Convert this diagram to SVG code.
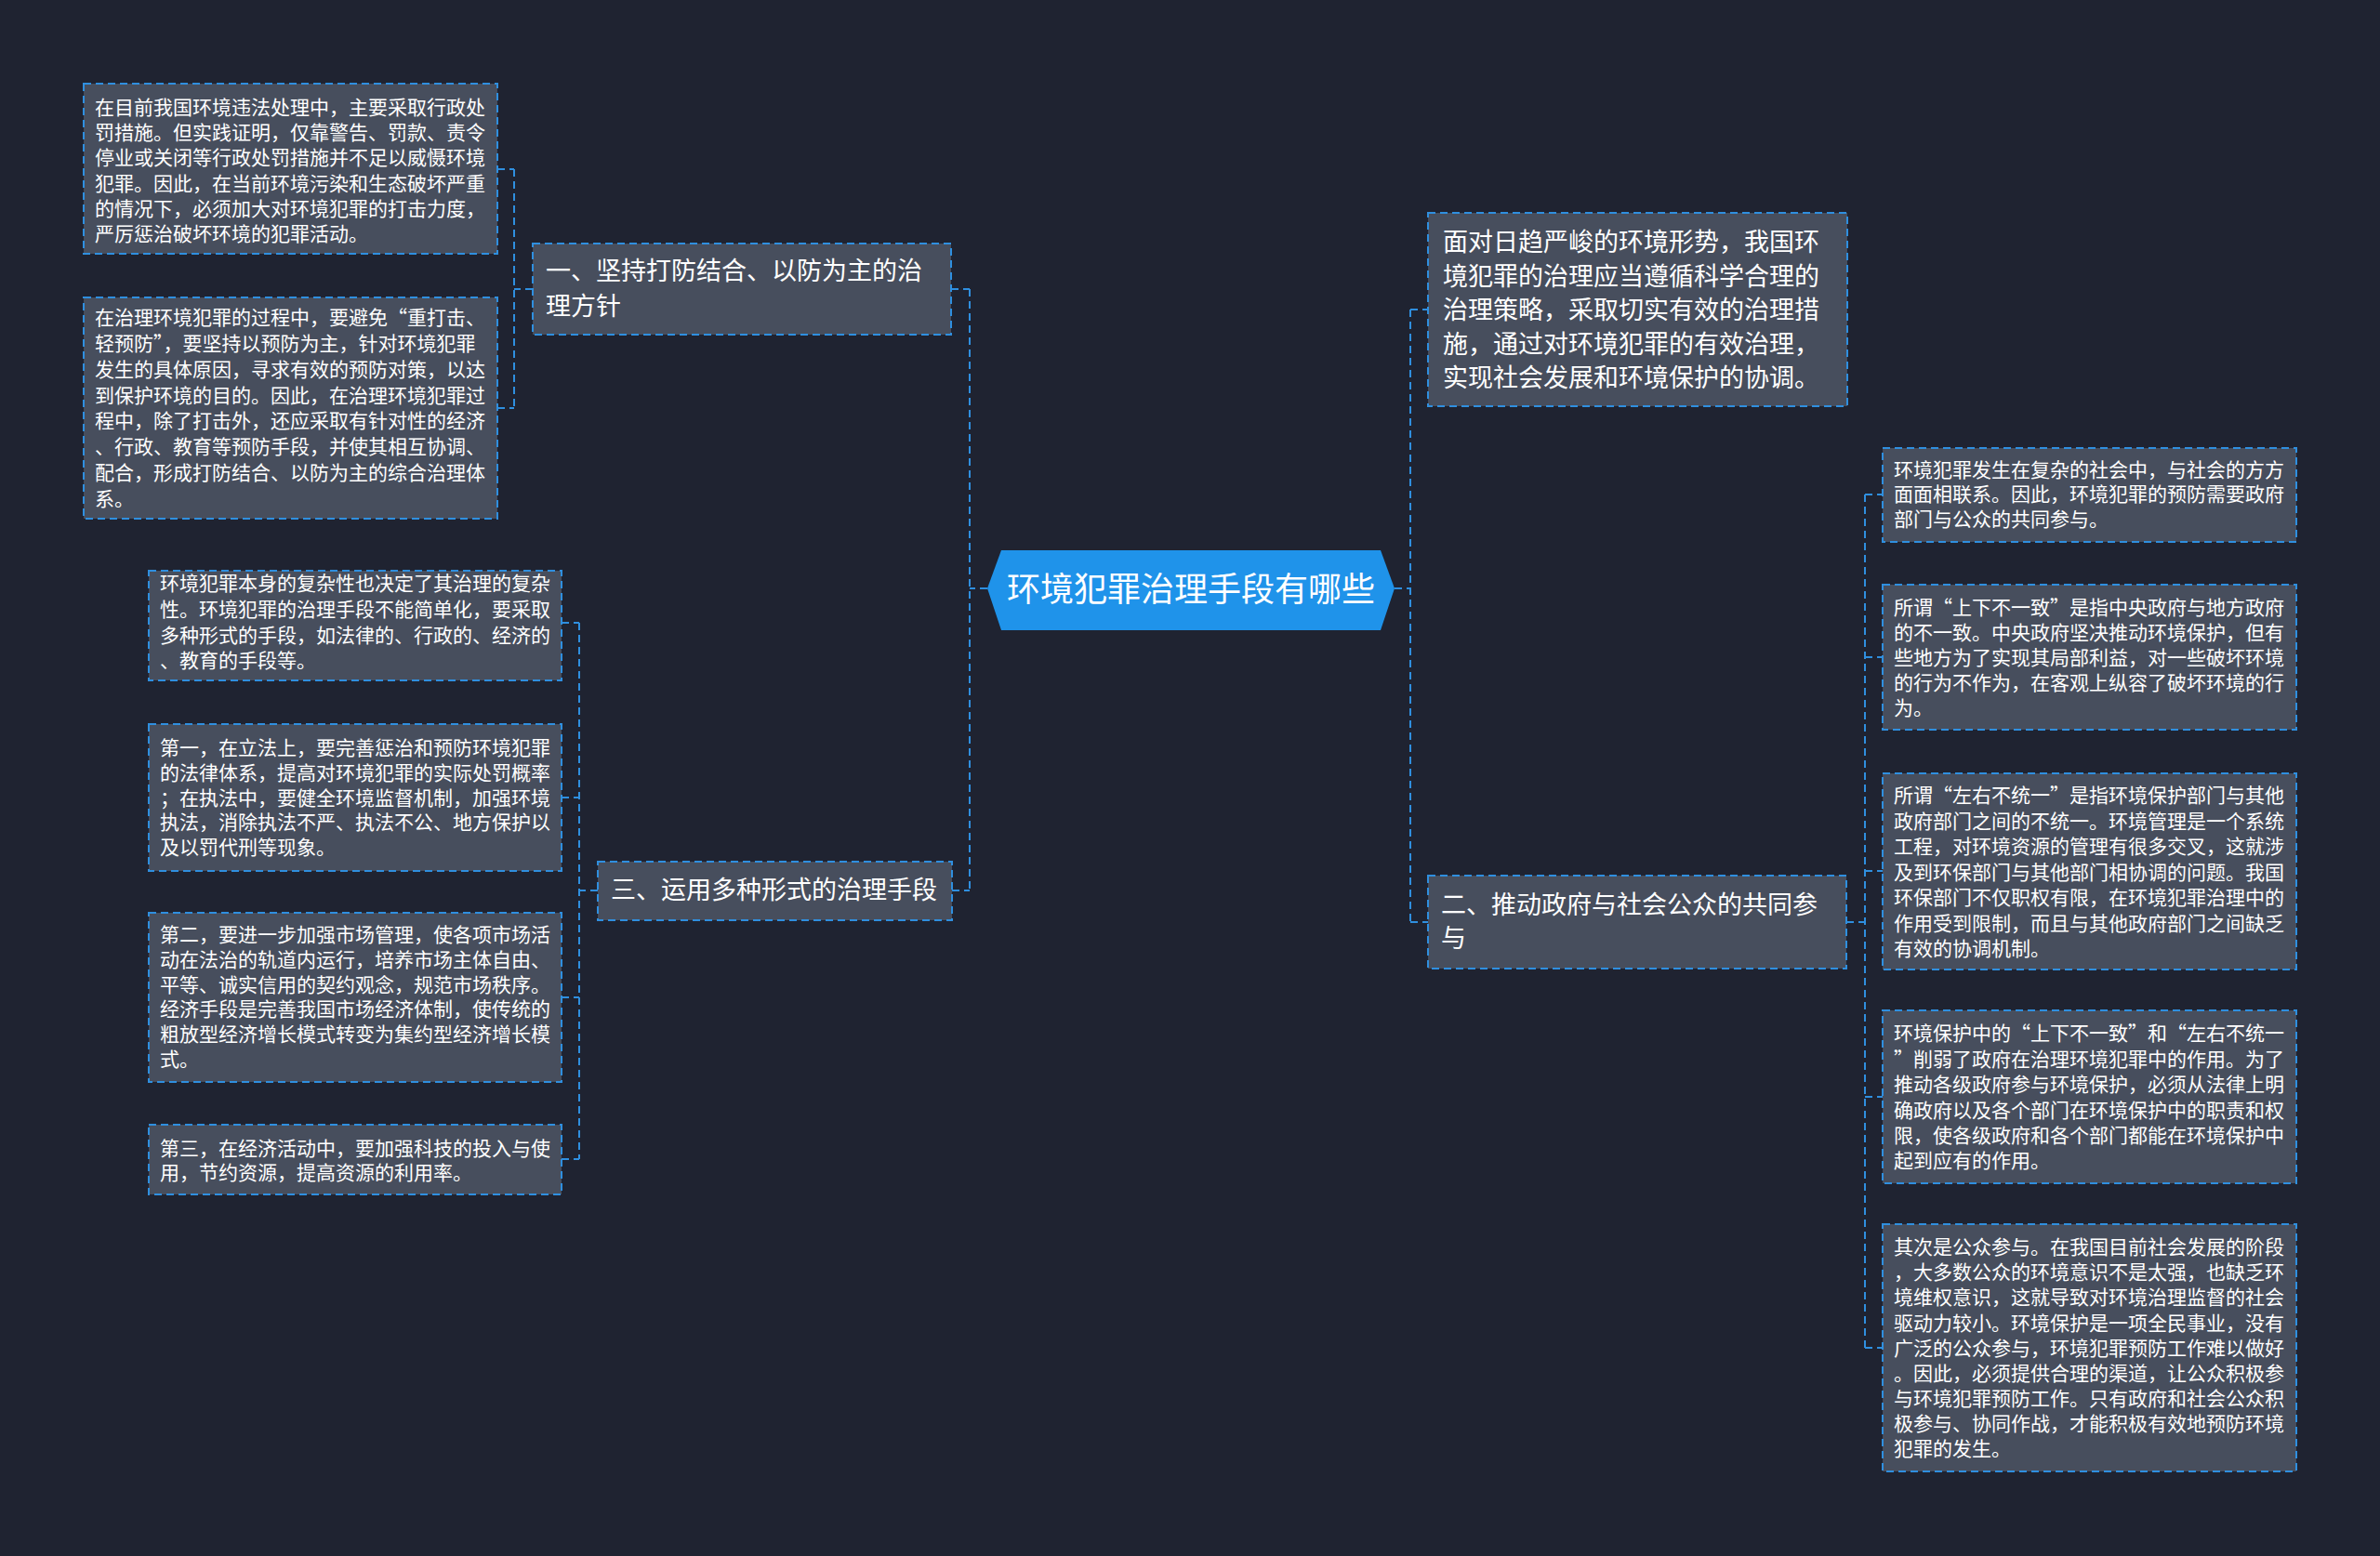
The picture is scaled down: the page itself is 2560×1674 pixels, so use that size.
<svg xmlns="http://www.w3.org/2000/svg" width="2560" height="1674" viewBox="0 0 2560 1674">
<style>
.box{fill:#474e5d;stroke:#2f8fdf;stroke-width:2;stroke-dasharray:8 5}
.conn{fill:none;stroke:#2f8fdf;stroke-width:2;stroke-dasharray:8 5}
.t{font-family:"Noto Sans CJK SC","Noto Sans",sans-serif;fill:#ffffff;dominant-baseline:central}
.s21{font-size:21px;transform:translateY(-3px)}
.s27{font-size:27px;transform:translateY(-4px)}
.s36{font-size:36px;transform:translateY(-2px)}
</style>
<rect x="0" y="0" width="2560" height="1674" fill="#1f2331"/>
<g id="connectors">
<path class="conn" d="M1062,633 H1043 M1043,311 V958 M1023,311 H1043 M1024,958 H1043"/>
<path class="conn" d="M573,311 H553 M553,182 V439 M535,182 H553 M535,439 H553"/>
<path class="conn" d="M643,958 H623 M623,670 V1247 M604,670 H623 M604,858 H623 M604,1073 H623 M604,1247 H623"/>
<path class="conn" d="M1500,633 H1517 M1517,333 V992 M1517,333 H1536 M1517,992 H1536"/>
<path class="conn" d="M1986,992 H2006 M2006,532 V1450 M2006,532 H2025 M2006,707 H2025 M2006,937 H2025 M2006,1180 H2025 M2006,1450 H2025"/>
</g>
<g id="center">
<polygon points="1062,633 1077,592 1485,592 1500,633 1485,678 1077,678" fill="#1f93ea"/>
<text class="t s36" x="1281" y="633" text-anchor="middle">环境犯罪治理手段有哪些</text>
</g>
<g id="branch1">
<rect class="box" x="573" y="262" width="450" height="98"/>
<text class="t s27"><tspan x="587" y="293">一、坚持打防结合、以防为主的治</tspan><tspan x="587" y="331">理方针</tspan></text>
</g>
<g id="b1c1">
<rect class="box" x="90" y="90" width="445" height="183"/>
<text class="t s21"><tspan x="102" y="117">在目前我国环境违法处理中，主要采取行政处</tspan><tspan x="102" y="144">罚措施。但实践证明，仅靠警告、罚款、责令</tspan><tspan x="102" y="171">停业或关闭等行政处罚措施并不足以威慑环境</tspan><tspan x="102" y="198.5">犯罪。因此，在当前环境污染和生态破坏严重</tspan><tspan x="102" y="225.5">的情况下，必须加大对环境犯罪的打击力度，</tspan><tspan x="102" y="252.5">严厉惩治破坏环境的犯罪活动。</tspan></text>
</g>
<g id="b1c2">
<rect class="box" x="90" y="320" width="445" height="238"/>
<text class="t s21"><tspan x="102" y="343">在治理环境犯罪的过程中，要避免“重打击、</tspan><tspan x="102" y="371">轻预防”，要坚持以预防为主，针对环境犯罪</tspan><tspan x="102" y="399">发生的具体原因，寻求有效的预防对策，以达</tspan><tspan x="102" y="427">到保护环境的目的。因此，在治理环境犯罪过</tspan><tspan x="102" y="454">程中，除了打击外，还应采取有针对性的经济</tspan><tspan x="102" y="482">、行政、教育等预防手段，并使其相互协调、</tspan><tspan x="102" y="510">配合，形成打防结合、以防为主的综合治理体</tspan><tspan x="102" y="538">系。</tspan></text>
</g>
<g id="branch3">
<rect class="box" x="643" y="927" width="381" height="63"/>
<text class="t s27" x="657" y="959">三、运用多种形式的治理手段</text>
</g>
<g id="b3c1">
<rect class="box" x="160" y="614" width="444" height="118"/>
<text class="t s21"><tspan x="172" y="629">环境犯罪本身的复杂性也决定了其治理的复杂</tspan><tspan x="172" y="657">性。环境犯罪的治理手段不能简单化，要采取</tspan><tspan x="172" y="685">多种形式的手段，如法律的、行政的、经济的</tspan><tspan x="172" y="712">、教育的手段等。</tspan></text>
</g>
<g id="b3c2">
<rect class="box" x="160" y="779" width="444" height="158"/>
<text class="t s21"><tspan x="172" y="806">第一，在立法上，要完善惩治和预防环境犯罪</tspan><tspan x="172" y="833">的法律体系，提高对环境犯罪的实际处罚概率</tspan><tspan x="172" y="860">；在执法中，要健全环境监督机制，加强环境</tspan><tspan x="172" y="886">执法，消除执法不严、执法不公、地方保护以</tspan><tspan x="172" y="913">及以罚代刑等现象。</tspan></text>
</g>
<g id="b3c3">
<rect class="box" x="160" y="982" width="444" height="182"/>
<text class="t s21"><tspan x="172" y="1007">第二，要进一步加强市场管理，使各项市场活</tspan><tspan x="172" y="1034">动在法治的轨道内运行，培养市场主体自由、</tspan><tspan x="172" y="1061">平等、诚实信用的契约观念，规范市场秩序。</tspan><tspan x="172" y="1087">经济手段是完善我国市场经济体制，使传统的</tspan><tspan x="172" y="1114">粗放型经济增长模式转变为集约型经济增长模</tspan><tspan x="172" y="1141">式。</tspan></text>
</g>
<g id="b3c4">
<rect class="box" x="160" y="1210" width="444" height="75"/>
<text class="t s21"><tspan x="172" y="1237">第三，在经济活动中，要加强科技的投入与使</tspan><tspan x="172" y="1263">用，节约资源，提高资源的利用率。</tspan></text>
</g>
<g id="intro">
<rect class="box" x="1536" y="229" width="451" height="208"/>
<text class="t s27"><tspan x="1552" y="262">面对日趋严峻的环境形势，我国环</tspan><tspan x="1552" y="298.5">境犯罪的治理应当遵循科学合理的</tspan><tspan x="1552" y="335">治理策略，采取切实有效的治理措</tspan><tspan x="1552" y="371.5">施，通过对环境犯罪的有效治理，</tspan><tspan x="1552" y="408">实现社会发展和环境保护的协调。</tspan></text>
</g>
<g id="branch2">
<rect class="box" x="1536" y="942" width="450" height="100"/>
<text class="t s27"><tspan x="1550" y="975">二、推动政府与社会公众的共同参</tspan><tspan x="1550" y="1011">与</tspan></text>
</g>
<g id="b2c1">
<rect class="box" x="2025" y="482" width="445" height="101"/>
<text class="t s21"><tspan x="2037" y="507">环境犯罪发生在复杂的社会中，与社会的方方</tspan><tspan x="2037" y="533">面面相联系。因此，环境犯罪的预防需要政府</tspan><tspan x="2037" y="560">部门与公众的共同参与。</tspan></text>
</g>
<g id="b2c2">
<rect class="box" x="2025" y="629" width="445" height="156"/>
<text class="t s21"><tspan x="2037" y="655">所谓“上下不一致”是指中央政府与地方政府</tspan><tspan x="2037" y="682">的不一致。中央政府坚决推动环境保护，但有</tspan><tspan x="2037" y="709">些地方为了实现其局部利益，对一些破坏环境</tspan><tspan x="2037" y="736">的行为不作为，在客观上纵容了破坏环境的行</tspan><tspan x="2037" y="763">为。</tspan></text>
</g>
<g id="b2c3">
<rect class="box" x="2025" y="832" width="445" height="211"/>
<text class="t s21"><tspan x="2037" y="857">所谓“左右不统一”是指环境保护部门与其他</tspan><tspan x="2037" y="884.5">政府部门之间的不统一。环境管理是一个系统</tspan><tspan x="2037" y="912">工程，对环境资源的管理有很多交叉，这就涉</tspan><tspan x="2037" y="939.5">及到环保部门与其他部门相协调的问题。我国</tspan><tspan x="2037" y="967">环保部门不仅职权有限，在环境犯罪治理中的</tspan><tspan x="2037" y="994.5">作用受到限制，而且与其他政府部门之间缺乏</tspan><tspan x="2037" y="1022">有效的协调机制。</tspan></text>
</g>
<g id="b2c4">
<rect class="box" x="2025" y="1087" width="445" height="186"/>
<text class="t s21"><tspan x="2037" y="1113">环境保护中的“上下不一致”和“左右不统一</tspan><tspan x="2037" y="1141">”削弱了政府在治理环境犯罪中的作用。为了</tspan><tspan x="2037" y="1168">推动各级政府参与环境保护，必须从法律上明</tspan><tspan x="2037" y="1196">确政府以及各个部门在环境保护中的职责和权</tspan><tspan x="2037" y="1223">限，使各级政府和各个部门都能在环境保护中</tspan><tspan x="2037" y="1250">起到应有的作用。</tspan></text>
</g>
<g id="b2c5">
<rect class="box" x="2025" y="1317" width="445" height="266"/>
<text class="t s21"><tspan x="2037" y="1343">其次是公众参与。在我国目前社会发展的阶段</tspan><tspan x="2037" y="1370">，大多数公众的环境意识不是太强，也缺乏环</tspan><tspan x="2037" y="1397">境维权意识，这就导致对环境治理监督的社会</tspan><tspan x="2037" y="1424.5">驱动力较小。环境保护是一项全民事业，没有</tspan><tspan x="2037" y="1452">广泛的公众参与，环境犯罪预防工作难以做好</tspan><tspan x="2037" y="1479">。因此，必须提供合理的渠道，让公众积极参</tspan><tspan x="2037" y="1506">与环境犯罪预防工作。只有政府和社会公众积</tspan><tspan x="2037" y="1533">极参与、协同作战，才能积极有效地预防环境</tspan><tspan x="2037" y="1560">犯罪的发生。</tspan></text>
</g>
</svg>
